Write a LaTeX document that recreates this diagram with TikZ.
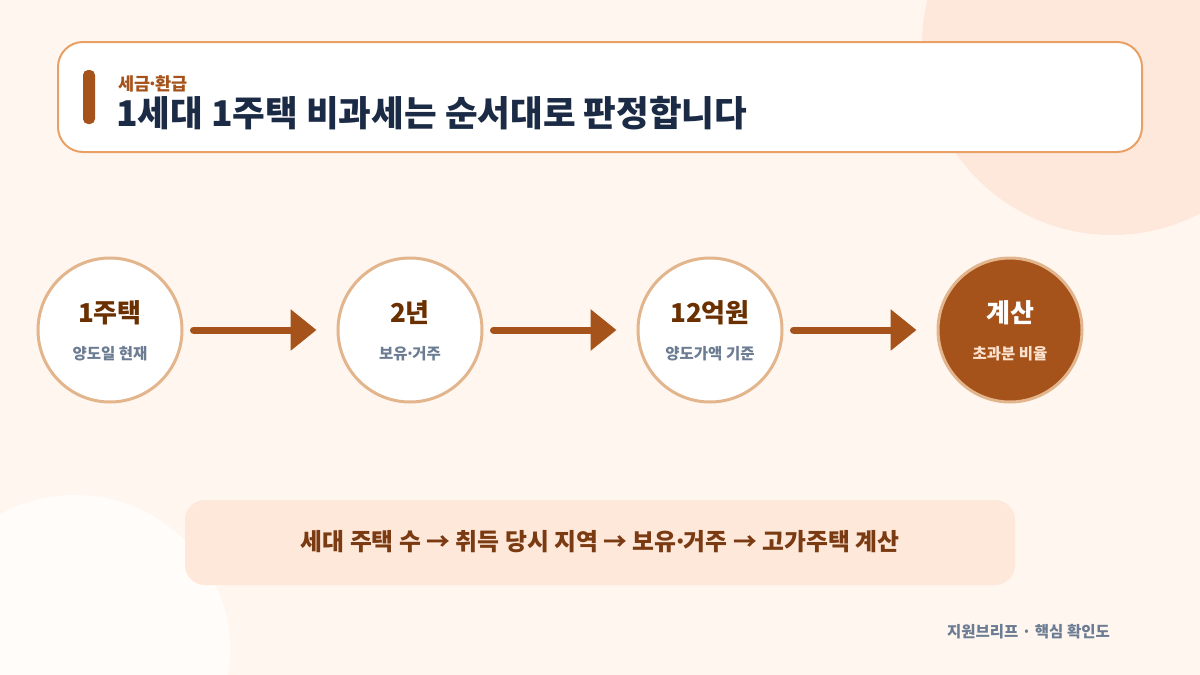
\documentclass[tikz,border=0pt]{standalone}
\usepackage{fontspec}
\setmainfont{Noto Sans CJK KR}
\usepackage{xcolor}
\usetikzlibrary{positioning, arrows.meta}

\definecolor{bgpaper}{HTML}{FFF6F0}
\definecolor{blobpeach}{HTML}{FEE8DB}
\definecolor{blobpale}{HTML}{FFFCFA}
\definecolor{headline}{HTML}{E8A065}
\definecolor{rust}{HTML}{A5531A}
\definecolor{navy}{HTML}{1B2B45}
\definecolor{ringtan}{HTML}{E3B58C}
\definecolor{darkbrown}{HTML}{6B3000}
\definecolor{slate}{HTML}{6B7C93}
\definecolor{lightsub}{HTML}{FDE3CF}
\definecolor{notefill}{HTML}{FEE8DA}
\definecolor{notetext}{HTML}{7A3A12}

% narrow middle dot
\newcommand{\ndot}{\hbox to 0.3em{\hss·\hss}}

\begin{document}
\begin{tikzpicture}[
    x=1pt, y=-1pt,
    stage/.style={draw=ringtan, line width=3pt, circle, fill=white, minimum size=144pt, inner sep=0pt},
    stagelast/.style={stage, fill=rust},
    mainlbl/.style={font=\fontsize{26}{30}\selectfont\bfseries, text=darkbrown},
    sublbl/.style={font=\fontsize{15.5}{18}\selectfont\bfseries, text=slate},
    flow/.style={draw=rust, line width=7pt, line cap=round,
        -{Triangle[length=26pt, width=40pt]}, shorten <=10pt, shorten >=20pt},
]
\useasboundingbox (0,0) rectangle (1200,675);
\begin{scope}
\clip (0,0) rectangle (1200,675);
\fill[bgpaper] (0,0) rectangle (1200,675);
\fill[blobpeach] (1112,45) circle (190);
\fill[blobpale] (75,650) circle (155);
\end{scope}

% header
\draw[headline, line width=2pt, fill=white, rounded corners=25pt] (58,42) rectangle (1142,152);
\fill[rust, rounded corners=5pt] (83,70) rectangle (95,124);
\node[anchor=west, inner sep=0pt, text=rust, font=\fontsize{17.5}{20}\selectfont\bfseries] (kicker) at (118,84) {세금\ndot 환급};
\node[anchor=west, inner sep=0pt, text=navy, font=\fontsize{35.5}{40}\selectfont\bfseries] (title) at (116,113) {1세대 1주택 비과세는 순서대로 판정합니다};

% stages
\node[stage] (c1) at (110,330) {};
\node[stage] (c2) at (410,330) {};
\node[stage] (c3) at (710,330) {};
\node[stagelast] (c4) at (1010,330) {};

\node[mainlbl] (m1) at ([yshift=17pt]c1.center) {1주택};
\node[sublbl] (d1) at ([yshift=-24pt]c1.center) {양도일 현재};
\node[mainlbl] (m2) at ([yshift=17pt]c2.center) {2년};
\node[sublbl] (d2) at ([yshift=-24pt]c2.center) {보유\ndot 거주};
\node[mainlbl] (m3) at ([yshift=17pt]c3.center) {12억원};
\node[sublbl] (d3) at ([yshift=-24pt]c3.center) {양도가액 기준};
\node[mainlbl, text=white] (m4) at ([yshift=17pt]c4.center) {계산};
\node[sublbl, text=lightsub] (d4) at ([yshift=-24pt]c4.center) {초과분 비율};

\draw[flow] (c1) -- (c2);
\draw[flow] (c2) -- (c3);
\draw[flow] (c3) -- (c4);

% summary strip
\fill[notefill, rounded corners=20pt] (185,500) rectangle (1015,585);
\node[text=notetext, font=\fontsize{23.8}{28}\selectfont\bfseries] (note) at (600,542) {세대 주택 수 → 취득 당시 지역 → 보유\ndot 거주 → 고가주택 계산};

% footer
\node[anchor=east, inner sep=0pt, text=slate, font=\fontsize{15.5}{18}\selectfont\bfseries] (foot) at (1110,632) {지원브리프 · 핵심 확인도};
\end{tikzpicture}
\end{document}
